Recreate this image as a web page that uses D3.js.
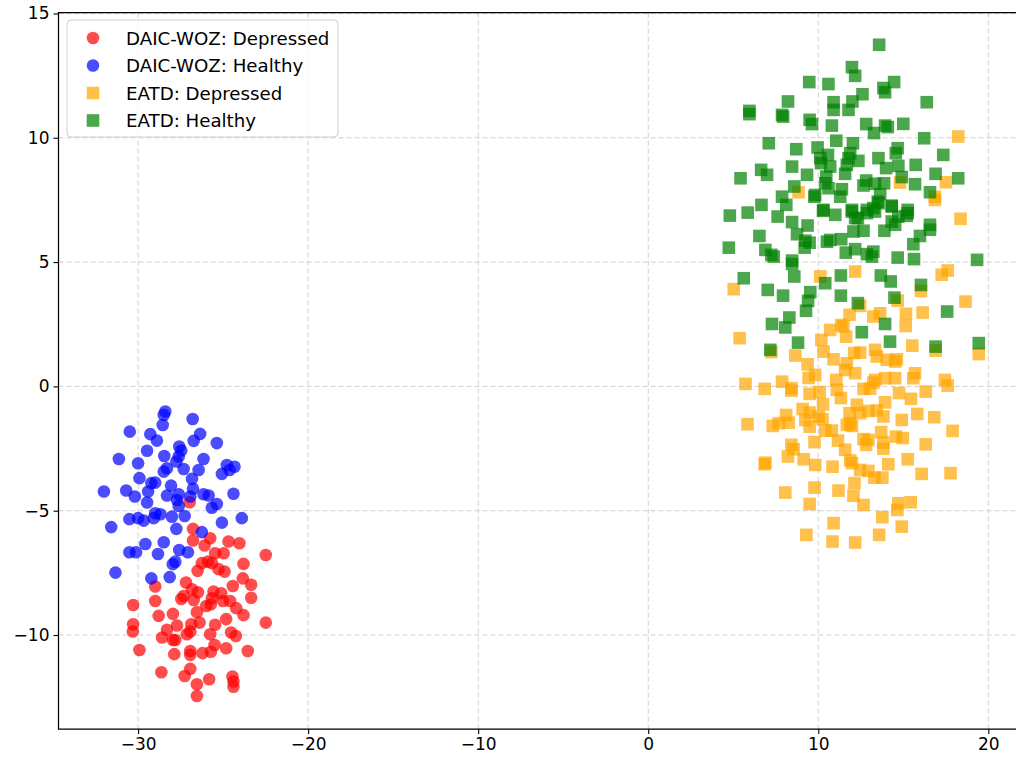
<!DOCTYPE html>
<html>
<head>
  <meta charset="utf-8">
  <script src="https://d3js.org/d3.v7.min.js"></script>
  <style>
    body { margin: 0; background-color: white; }
    svg text { font-family: 'DejaVu Sans', sans-serif; }
  </style>
</head>
<body>
<svg id="chart" width="1016" height="760"></svg>
<script>
// point values (data units)
var daicDepressed = [
  [-26.97,-4.66],[-26.77,-5.73],[-26.77,-6.20],[-25.76,-6.11],[-26.09,-6.40],[-24.68,-6.24],[-24.04,-6.31],
  [-25.47,-6.71],[-24.97,-6.71],[-22.49,-6.78],[-26.25,-7.11],[-25.89,-7.05],[-25.66,-7.11],[-25.27,-7.35],
  [-24.91,-7.45],[-26.50,-7.42],[-23.80,-7.14],[-27.18,-7.89],[-28.99,-8.05],[-23.84,-7.72],[-23.35,-7.98],
  [-24.43,-8.03],[-26.83,-8.16],[-26.48,-8.28],[-27.32,-8.43],[-27.46,-8.55],[-26.73,-8.59],[-25.56,-8.25],
  [-25.11,-8.32],[-25.66,-8.52],[-25.01,-8.63],[-24.59,-8.63],[-23.35,-8.50],[-28.99,-8.63],[-30.29,-8.79],
  [-25.99,-8.83],[-25.72,-8.76],[-24.23,-8.92],[-26.54,-9.08],[-23.80,-9.20],[-28.79,-9.23],[-27.95,-9.15],
  [-24.82,-9.36],[-26.38,-9.50],[-26.87,-9.57],[-27.71,-9.62],[-25.47,-9.59],[-22.49,-9.50],[-30.29,-9.57],
  [-30.31,-9.86],[-28.30,-9.79],[-28.59,-10.10],[-27.95,-10.20],[-27.81,-10.20],[-27.13,-9.97],[-26.93,-9.86],
  [-25.76,-9.97],[-24.53,-9.90],[-24.25,-10.04],[-25.50,-10.40],[-24.82,-10.53],[-23.55,-10.64],[-29.92,-10.60],
  [-27.87,-10.77],[-26.93,-10.64],[-26.93,-10.80],[-26.21,-10.73],[-25.72,-10.67],[-28.63,-11.50],[-26.93,-11.36],
  [-27.26,-11.65],[-25.82,-11.78],[-26.54,-11.98],[-24.45,-11.67],[-24.39,-11.87],[-24.39,-12.08],[-26.54,-12.45]
];
var daicHealthy = [
  [-28.40,-1.01],[-28.49,-1.15],[-28.55,-1.55],[-26.79,-1.31],[-30.49,-1.82],[-29.28,-1.92],[-28.89,-2.18],
  [-26.35,-1.91],[-26.73,-2.19],[-25.37,-2.28],[-27.58,-2.42],[-27.46,-2.58],[-29.47,-2.59],[-31.13,-2.92],
  [-30.00,-3.09],[-28.46,-2.80],[-27.61,-2.82],[-27.75,-3.02],[-26.15,-2.92],[-24.78,-3.16],[-24.33,-3.23],
  [-25.07,-3.52],[-24.62,-3.36],[-28.30,-3.29],[-28.49,-3.43],[-27.32,-3.32],[-26.44,-3.36],[-29.92,-3.69],
  [-26.83,-3.72],[-29.22,-3.89],[-28.99,-3.87],[-28.06,-3.99],[-26.77,-4.12],[-32.01,-4.23],[-30.70,-4.19],
  [-29.41,-4.23],[-30.19,-4.43],[-28.30,-4.39],[-27.61,-4.34],[-26.15,-4.34],[-25.85,-4.39],[-24.39,-4.32],
  [-27.71,-4.57],[-29.47,-4.67],[-26.93,-4.43],[-25.37,-4.73],[-25.66,-4.88],[-27.61,-4.81],[-28.99,-5.10],
  [-28.69,-5.14],[-29.08,-5.30],[-28.01,-5.24],[-27.26,-5.21],[-30.51,-5.34],[-30.00,-5.30],[-29.67,-5.40],
  [-31.58,-5.66],[-25.07,-5.48],[-23.90,-5.30],[-27.75,-5.73],[-26.25,-5.86],[-29.57,-6.34],[-28.49,-6.27],
  [-30.51,-6.67],[-30.12,-6.67],[-28.83,-6.74],[-27.58,-6.58],[-27.07,-6.67],[-27.81,-7.05],[-27.96,-7.15],
  [-31.33,-7.49],[-29.22,-7.72],[-28.14,-7.67]
];
var eatdDepressed = [
  [8.84,7.81],[18.23,10.05],[14.81,8.20],[17.51,8.21],[16.86,7.63],[10.12,4.42],[12.17,4.62],[5.03,3.91],
  [5.38,1.94],[7.24,1.38],[11.84,2.88],[11.35,2.47],[11.48,2.41],[10.70,2.27],[11.64,2.00],[10.18,1.87],
  [10.31,1.40],[10.90,1.09],[12.11,1.34],[8.65,1.24],[9.37,0.89],[9.82,0.46],[9.43,0.34],[11.68,0.93],
  [11.58,0.66],[12.17,0.53],[7.87,0.19],[11.06,0.26],[16.86,7.50],[18.37,6.74],[16.04,3.84],[17.61,4.66],
  [17.26,4.49],[14.67,3.45],[18.66,3.41],[16.14,2.97],[12.46,3.24],[13.64,2.94],[13.24,2.81],[15.16,2.92],
  [15.14,2.43],[15.53,1.64],[16.90,1.44],[19.44,1.30],[12.46,1.36],[13.34,1.47],[13.44,1.20],[14.03,1.07],
  [14.62,1.09],[14.52,1.00],[13.34,0.26],[13.93,0.33],[14.52,0.33],[15.69,0.53],[15.59,0.33],[17.45,0.26],
  [5.72,0.10],[6.85,-0.10],[8.42,-0.07],[8.42,-0.17],[9.49,-0.30],[10.08,-0.23],[11.10,-0.14],[11.33,-0.47],
  [10.28,-0.72],[9.08,-0.91],[9.49,-1.05],[8.11,-1.15],[9.24,-1.35],[9.49,-1.62],[10.02,-1.21],[10.25,-1.32],
  [11.84,-1.08],[12.27,-0.74],[11.68,-1.55],[11.88,-1.48],[11.98,-1.59],[5.84,-1.52],[7.32,-1.59],[7.67,-1.48],
  [8.26,-1.46],[10.41,-1.78],[10.80,-1.78],[11.16,-2.18],[9.78,-2.24],[8.42,-2.35],[8.55,-2.53],[8.22,-2.82],
  [11.58,-2.55],[9.14,-2.93],[6.89,-3.07],[6.85,-3.13],[9.82,-3.16],[10.84,-3.23],[11.88,-2.98],[11.98,-3.09],
  [12.46,-3.36],[8.06,-4.27],[9.78,-4.07],[11.19,-4.19],[12.13,-3.89],[12.07,-4.40],[9.49,-4.73],[10.90,-5.50],
  [9.30,-5.97],[10.84,-6.24],[12.17,-6.28],[12.66,-0.10],[13.05,-0.09],[13.24,0.15],[14.75,-0.27],[15.45,-0.50],
  [16.32,-0.21],[17.61,0.03],[12.46,-1.08],[12.95,-0.99],[13.44,-0.97],[13.83,-1.21],[13.93,-0.64],[14.91,-1.35],
  [15.82,-1.11],[16.82,-1.24],[17.90,-1.79],[13.70,-1.84],[12.66,-2.12],[12.95,-2.15],[12.82,-2.35],[13.83,-2.26],
  [13.83,-2.51],[14.57,-2.02],[14.97,-2.08],[16.32,-2.33],[14.12,-3.13],[15.26,-2.93],[12.95,-3.40],[13.30,-3.67],
  [13.77,-3.67],[16.08,-3.52],[17.78,-3.49],[12.66,-4.77],[14.71,-4.70],[14.65,-4.97],[15.44,-4.66],[13.77,-5.26],
  [14.91,-5.64],[13.58,-5.97]
];
var eatdHealthy = [
  [11.98,12.84],[12.17,12.49],[9.47,12.24],[10.60,12.16],[10.90,11.43],[10.90,11.12],[12.01,11.46],[11.78,11.12],
  [8.22,11.46],[5.95,11.08],[5.95,10.95],[7.87,10.92],[7.93,10.85],[9.49,10.72],[9.63,10.55],[10.80,10.49],
  [7.09,9.78],[8.71,9.54],[11.06,9.88],[9.96,9.61],[12.04,9.78],[10.57,9.31],[10.12,9.18],[10.16,8.98],
  [10.70,8.84],[11.88,9.38],[11.78,9.18],[11.68,8.91],[6.64,8.71],[6.99,8.51],[8.46,8.84],[5.43,8.37],
  [9.34,8.51],[10.47,8.44],[10.41,8.17],[11.58,8.55],[8.59,8.04],[10.60,7.97],[11.39,7.93],[11.29,7.63],
  [9.82,7.70],[9.77,7.63],[7.87,7.63],[8.12,7.30],[6.66,7.30],[10.31,7.10],[11.98,7.10],[13.58,13.74],
  [13.83,12.00],[13.93,11.83],[14.46,12.24],[12.60,11.75],[16.38,11.43],[12.82,10.55],[13.28,10.19],[13.93,10.49],
  [14.09,10.43],[15.00,10.56],[16.23,9.98],[14.67,9.58],[14.56,9.38],[13.54,9.18],[12.36,9.07],[13.99,8.78],
  [14.71,8.87],[15.73,8.91],[17.35,9.31],[12.82,8.28],[12.66,8.08],[13.34,8.15],[13.87,8.17],[14.91,8.42],
  [15.69,8.13],[16.90,8.55],[18.23,8.37],[16.57,7.81],[13.64,7.73],[13.50,7.43],[14.32,7.27],[13.24,7.17],
  [12.86,7.10],[15.26,7.10],[4.80,6.87],[5.85,6.99],[7.61,6.83],[8.46,6.61],[9.37,6.47],[8.75,6.12],
  [6.54,6.05],[9.24,5.86],[9.49,5.78],[9.20,5.58],[6.89,5.49],[7.24,5.29],[7.38,5.22],[4.74,5.58],
  [8.46,5.06],[8.46,4.92],[10.28,7.06],[11.00,6.90],[11.98,7.03],[12.17,6.77],[10.51,5.82],[10.70,5.89],
  [11.35,5.92],[12.07,6.23],[11.62,5.38],[12.17,5.52],[8.59,4.42],[5.62,4.35],[10.41,4.15],[11.33,4.46],
  [7.03,3.88],[7.93,3.65],[9.53,3.79],[9.40,3.44],[11.33,3.65],[12.33,3.35],[9.28,3.04],[8.30,2.77],
  [8.06,2.37],[7.28,2.51],[8.81,1.76],[7.18,1.47],[13.54,7.37],[14.32,7.23],[13.34,7.03],[12.86,6.97],
  [12.33,6.77],[14.71,6.83],[15.26,6.97],[15.20,6.86],[14.52,6.50],[14.32,6.63],[13.89,6.26],[12.66,6.26],
  [16.57,6.50],[16.57,6.30],[15.98,6.05],[15.59,5.72],[12.86,5.32],[13.24,5.42],[13.15,5.22],[14.67,5.18],
  [15.63,5.12],[19.34,5.09],[13.68,4.46],[14.26,4.22],[16.04,4.08],[14.48,3.57],[17.58,3.01],[13.93,2.51],
  [12.56,2.18],[14.22,1.80],[16.90,1.60],[19.44,1.74]
];
var seriesNames = ['DAIC-WOZ: Depressed', 'DAIC-WOZ: Healthy', 'EATD: Depressed', 'EATD: Healthy'];
var seriesColors = ['#ff0000', '#0000ff', '#ffa500', '#008000'];
var seriesShapes = ['circle', 'circle', 'square', 'square'];
var xTicks = [-30, -20, -10, 0, 10, 20];
var yTicks = [-10, -5, 0, 5, 10, 15];

var svg = d3.select('#chart');
var plotLeft = 58.5, plotRight = 1023, plotTop = 12.7, plotBottom = 729;

var x = d3.scaleLinear().domain([-34.68, 22.04]).range([plotLeft, plotRight]);
var y = d3.scaleLinear().domain([-13.78, 15.03]).range([plotBottom, plotTop]);

// grid
var grid = svg.append('g')
  .attr('stroke', '#cfcfcf')
  .attr('stroke-width', 1)
  .attr('stroke-dasharray', '5,3');
grid.selectAll('line.gx').data(xTicks).join('line')
  .attr('class', 'gx')
  .attr('x1', d => x(d)).attr('x2', d => x(d))
  .attr('y1', plotTop).attr('y2', plotBottom);
grid.selectAll('line.gy').data(yTicks).join('line')
  .attr('class', 'gy')
  .attr('x1', plotLeft).attr('x2', plotRight)
  .attr('y1', d => y(d)).attr('y2', d => y(d));

// points
var allSeries = [daicDepressed, daicHealthy, eatdDepressed, eatdHealthy];
var r = 6.3;
allSeries.forEach(function (pts, i) {
  var g = svg.append('g')
    .attr('fill', seriesColors[i])
    .attr('fill-opacity', 0.7);
  if (seriesShapes[i] === 'circle') {
    g.selectAll('circle').data(pts).join('circle')
      .attr('cx', d => x(d[0]))
      .attr('cy', d => y(d[1]))
      .attr('r', r);
  } else {
    g.selectAll('rect').data(pts).join('rect')
      .attr('x', d => x(d[0]) - r)
      .attr('y', d => y(d[1]) - r)
      .attr('width', 2 * r)
      .attr('height', 2 * r);
  }
});

// axes
var xAxis = d3.axisBottom(x).tickValues(xTicks).tickSize(5).tickSizeOuter(0).tickPadding(4);
var yAxis = d3.axisLeft(y).tickValues(yTicks).tickSize(5).tickSizeOuter(0).tickPadding(4);

var gx = svg.append('g')
  .attr('transform', 'translate(0,' + plotBottom + ')')
  .call(xAxis);
var gy = svg.append('g')
  .attr('transform', 'translate(' + plotLeft + ',0)')
  .call(yAxis);
[gx, gy].forEach(function (g) {
  g.select('.domain').remove();
  g.selectAll('line').attr('stroke', '#000').attr('stroke-width', 1.1);
  g.selectAll('text').attr('fill', '#000').style('font-size', '17px');
});

// spines (left, bottom, top)
svg.append('path')
  .attr('d', 'M' + plotRight + ',' + plotTop + 'H' + plotLeft + 'V' + plotBottom + 'H' + plotRight)
  .attr('fill', 'none')
  .attr('stroke', '#000')
  .attr('stroke-width', 1.25);

// legend
var legend = svg.append('g').attr('transform', 'translate(67,20)');
legend.append('rect')
  .attr('width', 271).attr('height', 117)
  .attr('rx', 4)
  .attr('fill', 'white').attr('fill-opacity', 0.8)
  .attr('stroke', '#d0d0d0');
seriesNames.forEach(function (name, i) {
  var cy = 18 + i * 27.5;
  if (seriesShapes[i] === 'circle') {
    legend.append('circle').attr('cx', 26).attr('cy', cy).attr('r', r)
      .attr('fill', seriesColors[i]).attr('fill-opacity', 0.7);
  } else {
    legend.append('rect').attr('x', 26 - r).attr('y', cy - r)
      .attr('width', 2 * r).attr('height', 2 * r)
      .attr('fill', seriesColors[i]).attr('fill-opacity', 0.7);
  }
  legend.append('text')
    .attr('x', 59).attr('y', cy)
    .attr('dy', '0.36em')
    .style('font-size', '18.2px')
    .attr('fill', '#000')
    .text(name);
});
</script>
</body>
</html>
